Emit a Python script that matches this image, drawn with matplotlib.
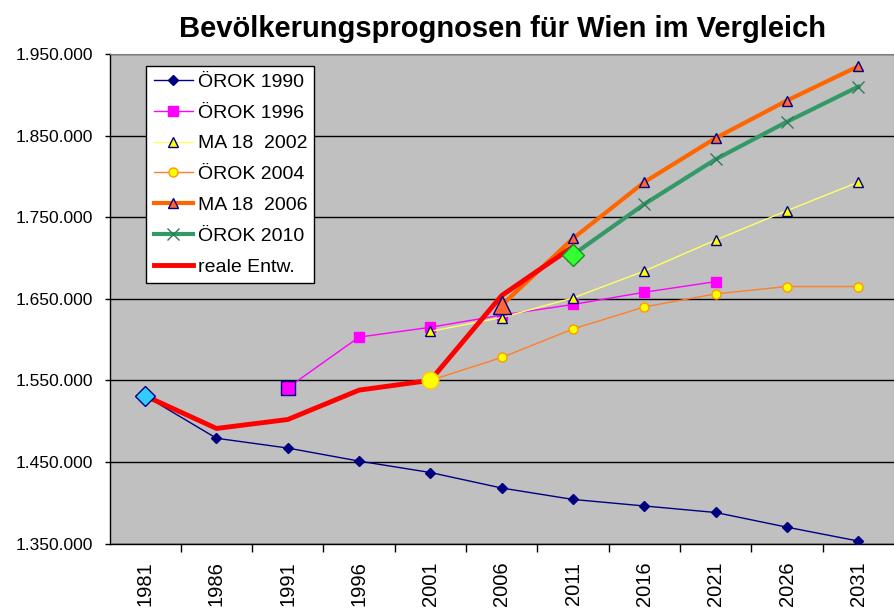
import numpy as np
import matplotlib
matplotlib.use("Agg")
import matplotlib.pyplot as plt
from matplotlib.ticker import FuncFormatter

plt.rcParams['font.family'] = ['Liberation Sans', 'DejaVu Sans']

nan = np.nan

# Jahre (Kategorien auf der x-Achse)
years = ["1981", "1986", "1991", "1996", "2001", "2006",
         "2011", "2016", "2021", "2026", "2031"]

# Prognosen
oerok_1990 = [1531000, 1479000, 1467000, 1451000, 1437000, 1418000,
              1404000, 1396000, 1388000, 1370000, 1353000]
oerok_1996 = [nan, nan, 1541000, 1603000, 1615000, 1630000,
              1643000, 1658000, 1671000, nan, nan]
ma18_2002 = [nan, nan, nan, nan, 1610000, 1627000,
             1651000, 1684000, 1722000, 1758000, 1793000]
oerok_2004 = [nan, nan, nan, nan, 1550000, 1578000,
              1613000, 1640000, 1656000, 1665000, 1665000]
ma18_2006 = [nan, nan, nan, nan, nan, 1642000,
             1724000, 1793000, 1847000, 1893000, 1935000]
oerok_2010 = [nan, nan, nan, nan, nan, nan,
              1704000, 1766000, 1821000, 1867000, 1910000]
reale_entw = [1531000, 1491000, 1502000, 1538000, 1550000, 1654000,
              1714000, nan, nan, nan, nan]

y_ticks = [1350000, 1450000, 1550000, 1650000, 1750000, 1850000, 1950000]

x = np.arange(len(years))

fig = plt.figure(figsize=(8.94, 6.09), dpi=100)
ax = fig.add_axes([109.5 / 894, 65.5 / 609, 784.5 / 894, 489.5 / 609])
ax.set_facecolor("#C0C0C0")

ax.plot(x, oerok_1990, color="#000080", lw=1, marker="D", ms=5.5,
        mfc="#000080", mec="#000080", label="ÖROK 1990", zorder=3)
ax.plot(x, oerok_1996, color="#FF00FF", lw=1, marker="s", ms=6.5,
        mfc="#FF00FF", mec="#FF00FF", label="ÖROK 1996", zorder=3)
ax.plot(x, ma18_2002, color="#FFFF66", lw=1, marker="^", ms=7.5,
        mfc="#FFFF00", mec="#000080", mew=1, label="MA 18  2002", zorder=3)
ax.plot(x, oerok_2004, color="#FF7F2A", lw=1, marker="o", ms=6.5,
        mfc="#FFFF00", mec="#FF9900", mew=1, label="ÖROK 2004", zorder=3)
ax.plot(x, ma18_2006, color="#FF6600", lw=3, marker="^", ms=7.5,
        mfc="#FF6633", mec="#000080", mew=1, label="MA 18  2006", zorder=4)
ax.plot(x, oerok_2010, color="#339966", lw=3, marker="x", ms=8,
        mec="#2E7D5A", mew=1, label="ÖROK 2010", zorder=4)
ax.plot(x, reale_entw, color="#FF0000", lw=3.5, label="reale Entw.",
        solid_joinstyle="miter", zorder=5)

# Startpunkte der Prognosen hervorgehoben
ax.plot(x[0], oerok_1990[0], marker="D", ms=10, mfc="#33CCFF",
        mec="#000080", mew=1, ls="none", zorder=6)
ax.plot(x[2], oerok_1996[2], marker="s", ms=10, mfc="#FF00FF",
        mec="#000080", mew=1, ls="none", zorder=6)
ax.plot(x[4], oerok_2004[4], marker="o", ms=12, mfc="#FFFF00",
        mec="#FFCC00", mew=1, ls="none", zorder=6)
ax.plot(x[5], ma18_2006[5], marker="^", ms=13, mfc="#FF6633",
        mec="#000080", mew=1, ls="none", zorder=6)
ax.plot(x[6], oerok_2010[6], marker="D", ms=11, mfc="#33FF33",
        mec="#228B22", mew=1, ls="none", zorder=6)

ax.set_xlim(-0.5, len(years) - 0.5)
ax.set_ylim(y_ticks[0], y_ticks[-1])

ax.set_yticks(y_ticks)
ax.yaxis.set_major_formatter(FuncFormatter(lambda v, p: f"{int(v):,}".replace(",", ".")))
ax.yaxis.grid(True, color="black", lw=1)
ax.set_axisbelow(True)
ax.tick_params(axis="y", direction="out", length=3.8, width=1,
               labelsize=12.5, pad=8)

ax.set_xticks(x)
ax.set_xticklabels(years, rotation=90, fontsize=14.5)
ax.set_xticks(np.arange(0.5, len(years) - 1, 1), minor=True)
ax.tick_params(axis="x", which="major", length=0, pad=13)
ax.tick_params(axis="x", which="minor", direction="out", length=6, width=1)

for side in ["top", "right"]:
    ax.spines[side].set_color("#808080")
for side in ["left", "bottom"]:
    ax.spines[side].set_color("black")
    ax.spines[side].set_linewidth(1)

leg = ax.legend(loc="upper left", bbox_to_anchor=(0.047, 0.976),
                borderaxespad=0, fontsize=14, frameon=True, fancybox=False,
                edgecolor="black", framealpha=1, handlelength=2.0,
                labelspacing=0.68, borderpad=0.38, handletextpad=0.25)
leg.get_frame().set_linewidth(1)

fig.text(0.5616, 0.952, "Bevölkerungsprognosen für Wien im Vergleich",
         ha="center", va="center", fontsize=21, fontweight="bold")

fig.savefig("out.png", dpi=100)
